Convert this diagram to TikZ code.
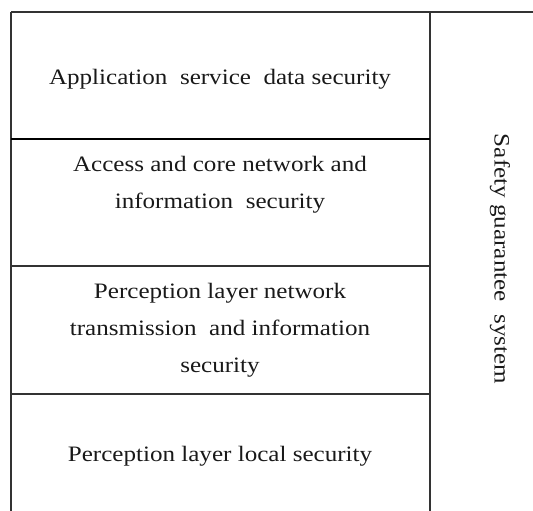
\documentclass[tikz,border=0pt]{standalone}
\usepackage{fontspec}
\setmainfont{Liberation Serif}[FakeStretch=1.14]
\begin{document}
\begin{tikzpicture}[x=1pt,y=-1pt,
  rule/.style={draw=black!80, line width=1.4pt},
  thickrule/.style={draw=black, line width=2.4pt},
  layertext/.style={align=center, font=\fontsize{22}{37}\selectfont, inner sep=0pt, text=black!90}
]
\useasboundingbox (0,0) rectangle (533,511);
% frame
\coordinate (tl) at (11,12);
\coordinate (tr) at (533,12);
\coordinate (bl) at (11,511);
\coordinate (mt) at (430,12);
\coordinate (mb) at (430,511);
\draw[rule] (tl) -- (tr);
\draw[rule] (tl) -- (bl);
\draw[rule] (mt) -- (mb);
% layer separators
\coordinate (s1l) at (11,139);  \coordinate (s1r) at (430,139);
\coordinate (s2l) at (11,266);  \coordinate (s2r) at (430,266);
\coordinate (s3l) at (11,394);  \coordinate (s3r) at (430,394);
\draw[thickrule] (s1l) -- (s1r);
\draw[rule] (s2l) -- (s2r);
\draw[rule] (s3l) -- (s3r);
% texts
\node[layertext] (app) at (220,79) {Application\ \ service\ \ data security};
\node[layertext] (acc) at (220,185) {Access and core network and\\information\ \ security};
\node[layertext] (pnt) at (220,330) {Perception layer network\\transmission\ \ and information\\security};
\node[layertext] (loc) at (220,456) {Perception layer local security};
\node[layertext, rotate=-90] (sgs) at (500,259) {Safety guarantee\ \ system};
\end{tikzpicture}
\end{document}
